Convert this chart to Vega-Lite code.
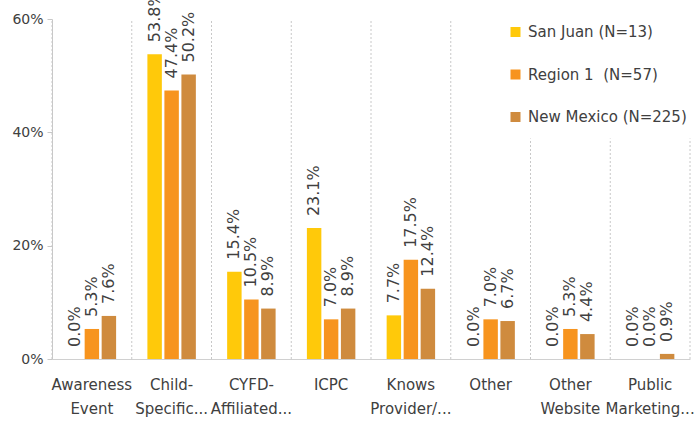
{
  "$schema": "https://vega.github.io/schema/vega-lite/v6.json",
  "width": 638,
  "height": 340,
  "autosize": {"type": "none"},
  "padding": {"left": 52, "top": 19, "right": 4, "bottom": 64},
  "background": "white",
  "config": {
    "view": {"stroke": null},
    "font": "DejaVu Sans"
  },
  "datasets": {
    "bars": [
      {"category": "Awareness|Event", "series": "San Juan (N=13)", "value": 0.0},
      {"category": "Awareness|Event", "series": "Region 1\u00a0\u00a0(N=57)", "value": 0.053},
      {"category": "Awareness|Event", "series": "New Mexico (N=225)", "value": 0.076},
      {"category": "Child-|Specific...", "series": "San Juan (N=13)", "value": 0.538},
      {"category": "Child-|Specific...", "series": "Region 1\u00a0\u00a0(N=57)", "value": 0.474},
      {"category": "Child-|Specific...", "series": "New Mexico (N=225)", "value": 0.502},
      {"category": "CYFD-|Affiliated...", "series": "San Juan (N=13)", "value": 0.154},
      {"category": "CYFD-|Affiliated...", "series": "Region 1\u00a0\u00a0(N=57)", "value": 0.105},
      {"category": "CYFD-|Affiliated...", "series": "New Mexico (N=225)", "value": 0.089},
      {"category": "ICPC", "series": "San Juan (N=13)", "value": 0.231},
      {"category": "ICPC", "series": "Region 1\u00a0\u00a0(N=57)", "value": 0.070},
      {"category": "ICPC", "series": "New Mexico (N=225)", "value": 0.089},
      {"category": "Knows|Provider/...", "series": "San Juan (N=13)", "value": 0.077},
      {"category": "Knows|Provider/...", "series": "Region 1\u00a0\u00a0(N=57)", "value": 0.175},
      {"category": "Knows|Provider/...", "series": "New Mexico (N=225)", "value": 0.124},
      {"category": "Other", "series": "San Juan (N=13)", "value": 0.0},
      {"category": "Other", "series": "Region 1\u00a0\u00a0(N=57)", "value": 0.070},
      {"category": "Other", "series": "New Mexico (N=225)", "value": 0.067},
      {"category": "Other|Website", "series": "San Juan (N=13)", "value": 0.0},
      {"category": "Other|Website", "series": "Region 1\u00a0\u00a0(N=57)", "value": 0.053},
      {"category": "Other|Website", "series": "New Mexico (N=225)", "value": 0.044},
      {"category": "Public|Marketing...", "series": "San Juan (N=13)", "value": 0.0},
      {"category": "Public|Marketing...", "series": "Region 1\u00a0\u00a0(N=57)", "value": 0.0},
      {"category": "Public|Marketing...", "series": "New Mexico (N=225)", "value": 0.009}
    ],
    "cats": [
      {"category": "Awareness|Event"},
      {"category": "Child-|Specific..."},
      {"category": "CYFD-|Affiliated..."},
      {"category": "ICPC"},
      {"category": "Knows|Provider/..."},
      {"category": "Other"},
      {"category": "Other|Website"},
      {"category": "Public|Marketing..."}
    ],
    "last": [
      {"category": "Public|Marketing..."}
    ]
  },
  "layer": [
    {
      "data": {"name": "cats"},
      "mark": {"type": "rule", "color": "#c8c8c8", "strokeDash": [2, 2], "strokeWidth": 1},
      "encoding": {
        "x": {"field": "category", "type": "nominal", "sort": null, "bandPosition": 0},
        "y": {"datum": 0},
        "y2": {"datum": 0.6}
      }
    },
    {
      "data": {"name": "last"},
      "mark": {"type": "rule", "color": "#c8c8c8", "strokeDash": [2, 2], "strokeWidth": 1},
      "encoding": {
        "x": {"field": "category", "type": "nominal", "sort": null, "bandPosition": 1},
        "y": {"datum": 0},
        "y2": {"datum": 0.6}
      }
    },
    {
      "data": {"name": "bars"},
      "mark": {"type": "bar"},
      "encoding": {
        "x": {
          "field": "category", "type": "nominal", "sort": null,
          "scale": {"paddingInner": 0, "paddingOuter": 0},
          "axis": {
            "title": null,
            "bandPosition": 0.5,
            "labelAngle": 0,
            "labelAlign": "center",
            "labelExpr": "split(datum.label, '|')",
            "labelFontSize": 15,
            "labelColor": "#404040",
            "labelBaseline": "top",
            "labelPadding": 18,
            "labelLineHeight": 24,
            "ticks": false,
            "domainColor": "#d0d0d0",
            "domainWidth": 1,
            "zindex": 1
          }
        },
        "xOffset": {
          "field": "series", "type": "nominal", "sort": null,
          "scale": {"paddingInner": 0.15, "paddingOuter": 0.92}
        },
        "y": {
          "field": "value", "type": "quantitative",
          "scale": {"domain": [0, 0.6], "nice": false, "zero": true},
          "axis": {
            "title": null,
            "values": [0, 0.2, 0.4, 0.6],
            "format": ".0%",
            "grid": false,
            "labelFontSize": 14,
            "labelColor": "#404040",
            "labelPadding": 4,
            "domainColor": "#c8c8c8",
            "tickColor": "#c8c8c8",
            "tickSize": 5,
            "zindex": 1
          }
        },
        "color": {
          "field": "series", "type": "nominal", "sort": null,
          "scale": {
            "domain": ["San Juan (N=13)", "Region 1\u00a0\u00a0(N=57)", "New Mexico (N=225)"],
            "range": ["#FFC90A", "#F7941E", "#CF8B3E"]
          },
          "legend": {
            "title": null,
            "orient": "none",
            "legendX": 444,
            "legendY": -6.5,
            "direction": "vertical",
            "padding": 12,
            "fillColor": "white",
            "strokeColor": "white",
            "symbolType": "square",
            "symbolSize": 100,
            "symbolStrokeWidth": 0,
            "labelFontSize": 15,
            "labelColor": "#404040",
            "labelOffset": 5,
            "rowPadding": 26.5,
            "zindex": 2
          }
        }
      }
    },
    {
      "data": {"name": "bars"},
      "mark": {"type": "text", "angle": 270, "align": "left", "baseline": "middle", "dx": 12, "fontSize": 16, "color": "#404040"},
      "encoding": {
        "x": {"field": "category", "type": "nominal", "sort": null},
        "xOffset": {"field": "series", "type": "nominal", "sort": null},
        "y": {"field": "value", "type": "quantitative"},
        "text": {"field": "value", "type": "quantitative", "format": ".1%"}
      }
    }
  ]
}
